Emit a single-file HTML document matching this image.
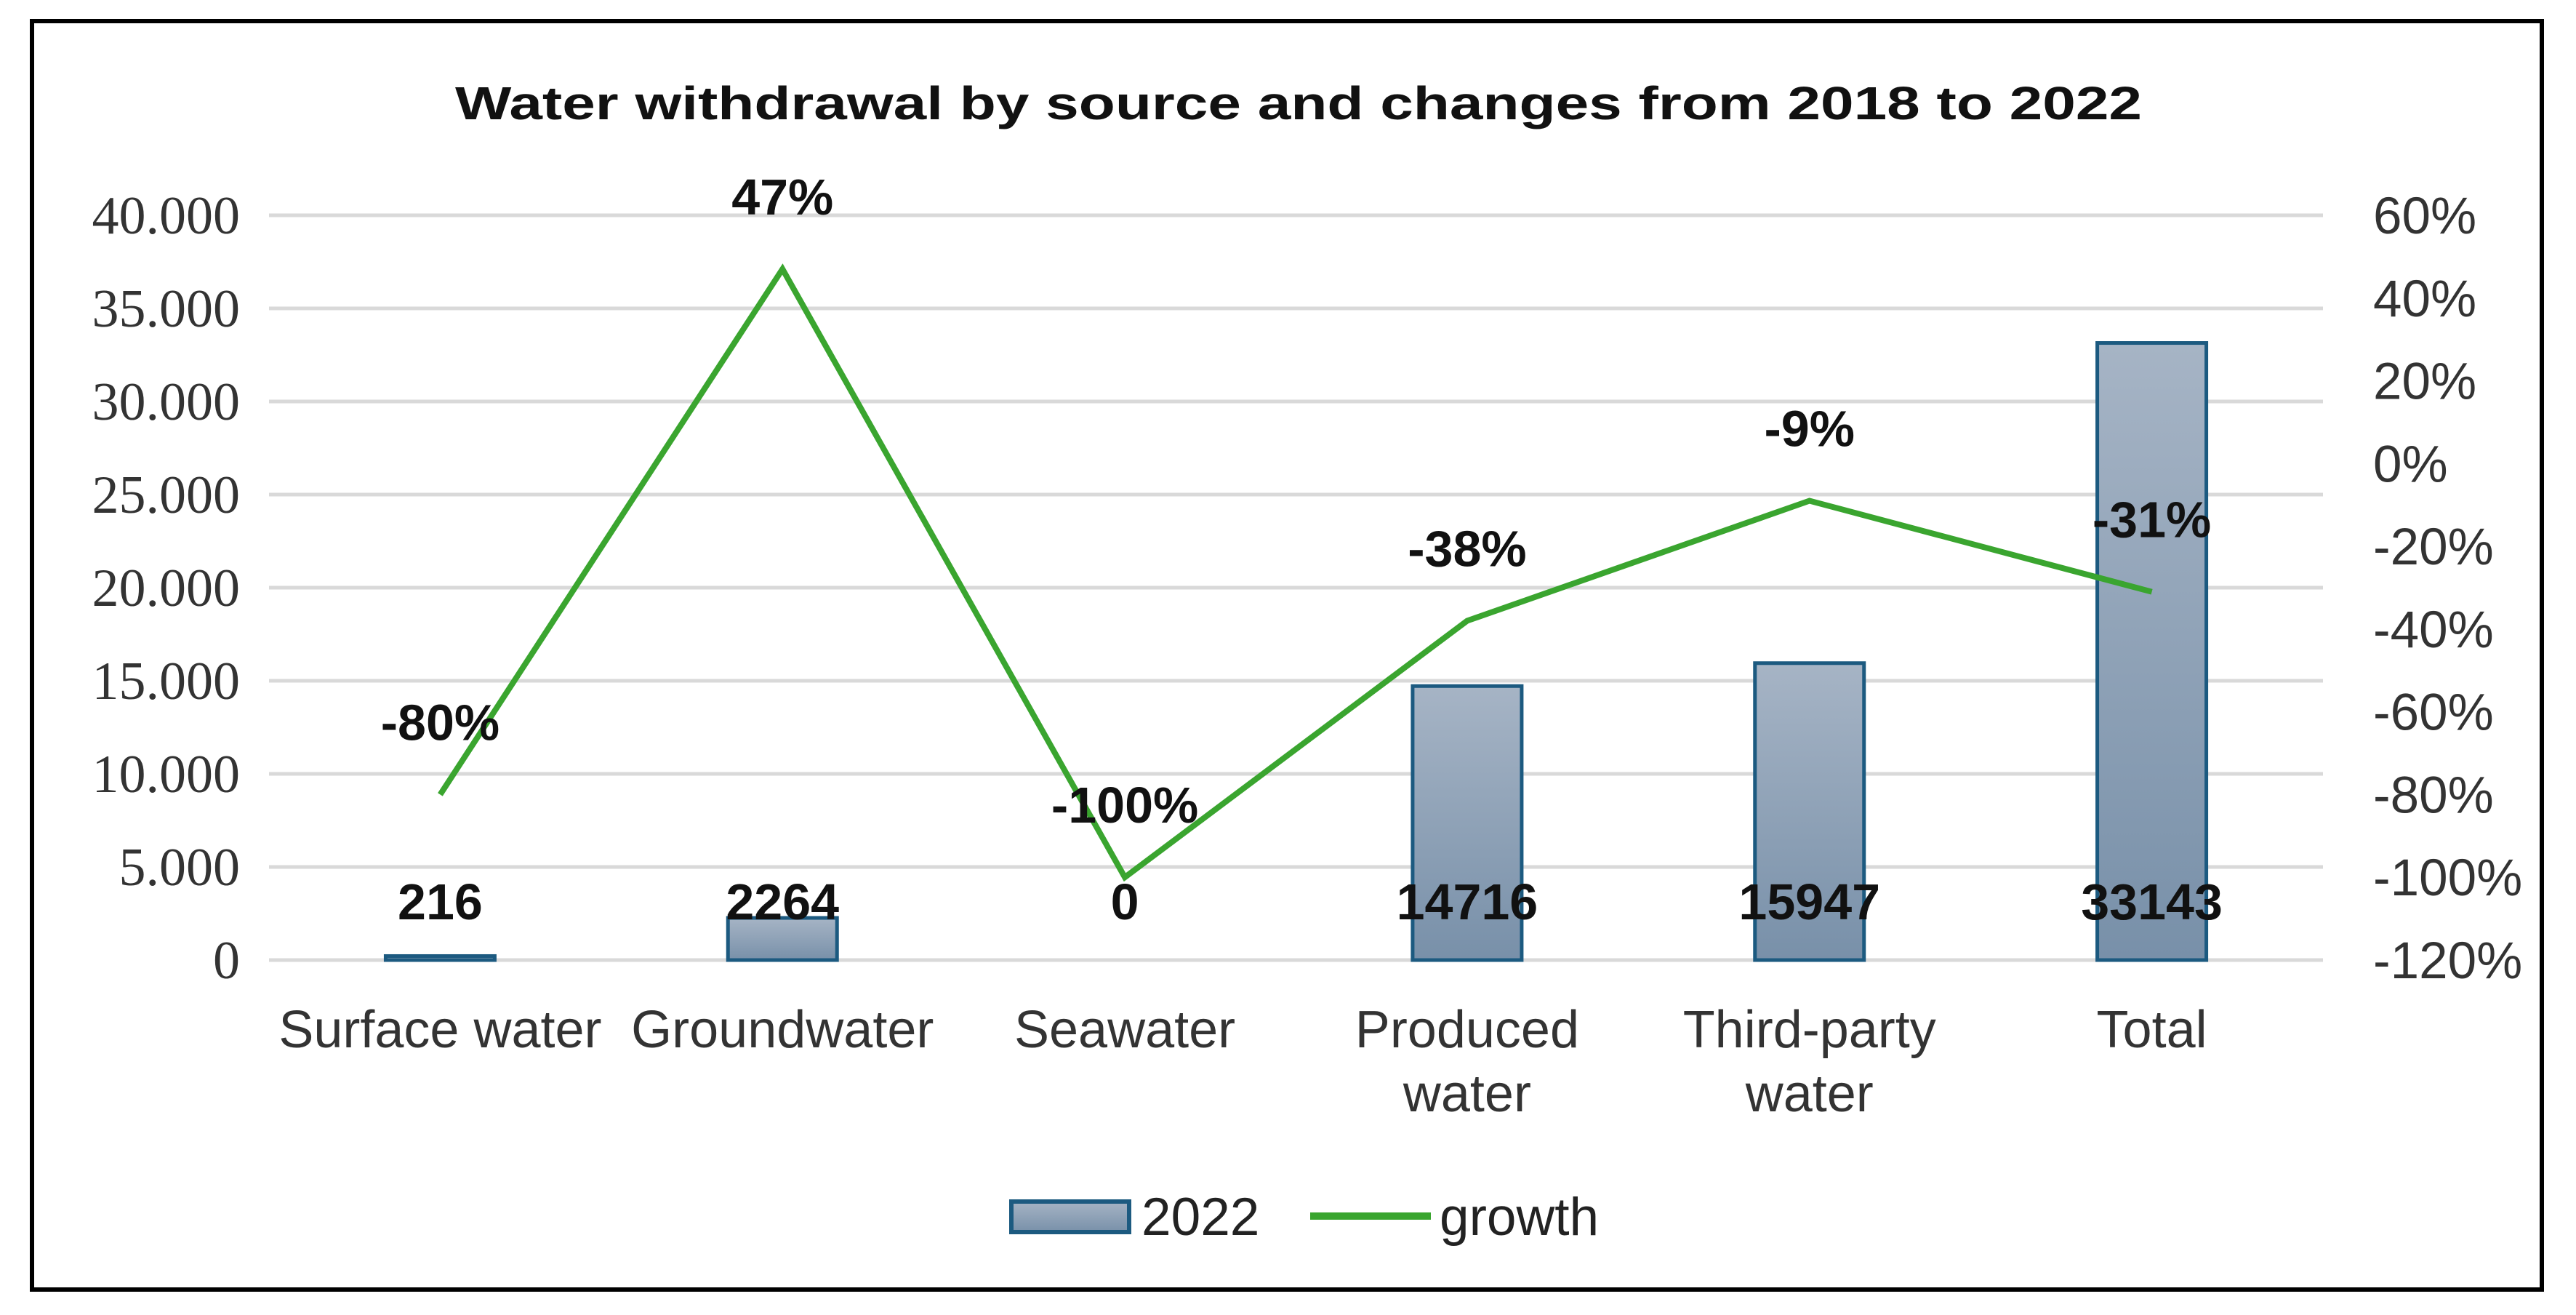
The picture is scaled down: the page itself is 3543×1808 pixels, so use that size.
<!DOCTYPE html>
<html><head><meta charset="utf-8"><style>
html,body{margin:0;padding:0;background:#fff;width:3543px;height:1808px;overflow:hidden}
svg{display:block}
</style></head><body>
<svg id="chart" width="3543" height="1808" viewBox="0 0 3543 1808" xmlns="http://www.w3.org/2000/svg">
<defs><linearGradient id="barGrad" x1="0" y1="0" x2="0" y2="1"><stop offset="0" stop-color="#a6b4c5"/><stop offset="1" stop-color="#7890a9"/></linearGradient></defs>
<rect x="44" y="29" width="3452" height="1744" fill="#fff" stroke="#000" stroke-width="6"/>
<text x="1786" y="164" text-anchor="middle" font-family="Liberation Sans, sans-serif" font-weight="bold" font-size="64" textLength="2320" lengthAdjust="spacingAndGlyphs" fill="#111">Water withdrawal by source and changes from 2018 to 2022</text>
<g id="grid"></g><g id="bars"></g><g id="line"></g><g id="labels"></g>
<g>
<rect x="1391" y="1652" width="162" height="42" fill="url(#barGrad)" stroke="#1c5a80" stroke-width="6"/>
<text x="1570" y="1698" font-family="Liberation Sans, sans-serif" font-size="73" fill="#222">2022</text>
<line x1="1802" y1="1672" x2="1968" y2="1672" stroke="#3aa52f" stroke-width="10"/>
<text x="1980" y="1698" font-family="Liberation Sans, sans-serif" font-size="73" fill="#222">growth</text>
</g>
</svg>
<script>
const categories = [["Surface water"],["Groundwater"],["Seawater"],["Produced","water"],["Third-party","water"],["Total"]];
const values2022 = [216, 2264, 0, 14716, 15947, 33143];
const growth = [-80, 47, -100, -38, -9, -31];
const leftTicks = [0,5000,10000,15000,20000,25000,30000,35000,40000];
const leftTickLabels = ["0","5.000","10.000","15.000","20.000","25.000","30.000","35.000","40.000"];
const rightTicks = [60,40,20,0,-20,-40,-60,-80,-100,-120];

const NS="http://www.w3.org/2000/svg";
const X0=370, X1=3195, Y0=1320, Y1=296;
const band=(X1-X0)/categories.length;
const xc=i=>X0+band*(i+0.5);
const yL=v=>Y0-(v/40000)*(Y0-Y1);
const yR=p=>Y1+((60-p)/180)*(Y0-Y1);
function mk(tag,attrs,parent,txt){const e=document.createElementNS(NS,tag);for(const k in attrs)e.setAttribute(k,attrs[k]);if(txt!==undefined)e.textContent=txt;parent.appendChild(e);return e;}
const grid=document.getElementById('grid'),bars=document.getElementById('bars'),line=document.getElementById('line'),labels=document.getElementById('labels');
leftTicks.forEach((t,i)=>{
  const g=mk('line',{x1:X0,x2:X1,y1:yL(t),y2:yL(t),stroke:'#d9d9d9','stroke-width':5},grid);
  
  
  const l=mk('text',{x:330,y:yL(t)+25,'text-anchor':'end','font-family':'Liberation Serif, serif','font-size':74,fill:'#333'},grid,leftTickLabels[i]);
  
  
});
rightTicks.forEach(p=>{
  const l=mk('text',{x:3264,y:yR(p)+25,'font-family':'Liberation Sans, sans-serif','font-size':71,fill:'#333'},grid,p+'%');
  
  
});
const bw=150;
values2022.forEach((v,i)=>{
  const h=Y0-yL(v);
  if(h>0.5){
    const b=mk('rect',{x:xc(i)-bw/2,y:yL(v),width:bw,height:h,fill:'url(#barGrad)',stroke:'#1c5a80','stroke-width':5},bars);
    
    
  }
  const t=mk('text',{x:xc(i),y:1264,'text-anchor':'middle','font-family':'Liberation Sans, sans-serif','font-weight':'bold','font-size':70,fill:'#111'},labels,String(v));
  
  
  categories[i].forEach((ln,k)=>{
    const c=mk('text',{x:xc(i),y:1440+k*88,'text-anchor':'middle','font-family':'Liberation Sans, sans-serif','font-size':72,fill:'#333'},labels,ln);
    
    
  });
});
const pts=growth.map((p,i)=>xc(i)+','+yR(p)).join(' ');
const pl=mk('polyline',{points:pts,fill:'none',stroke:'#3aa52f','stroke-width':8,'stroke-linejoin':'miter'},line);


growth.forEach((p,i)=>{
  const t=mk('text',{x:xc(i),y:yR(p)-75,'text-anchor':'middle','font-family':'Liberation Sans, sans-serif','font-weight':'bold','font-size':70,fill:'#111'},labels,p+'%');
  
  
});
</script>
</body></html>
